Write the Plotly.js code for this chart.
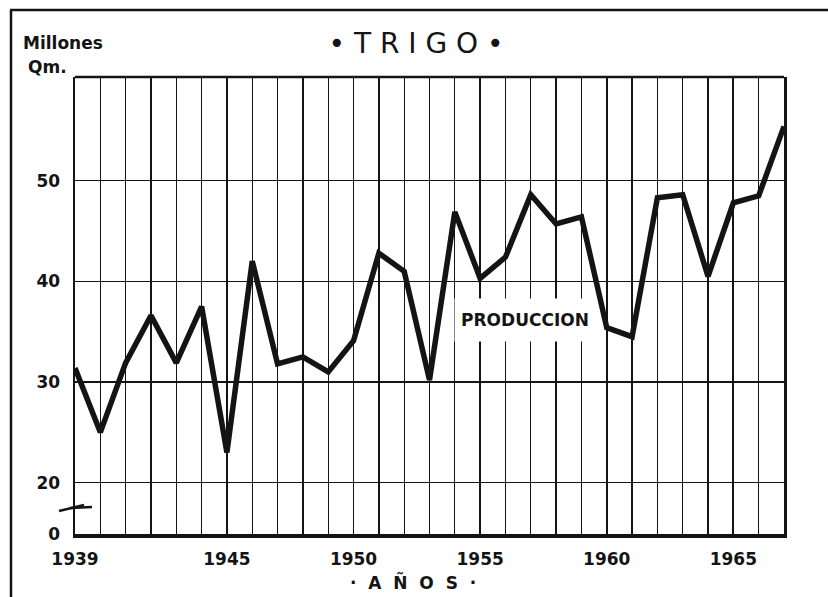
<!DOCTYPE html>
<html><head><meta charset="utf-8">
<script src="https://cdn.plot.ly/plotly-3.0.1.min.js"></script>
<style>html,body{margin:0;padding:0;background:#fff;}#chart{width:828px;height:597px;}</style>
</head><body><div id="chart"></div>
<script>
const years = [1939,1940,1941,1942,1943,1944,1945,1946,1947,1948,1949,1950,1951,1952,1953,1954,1955,1956,1957,1958,1959,1960,1961,1962,1963,1964,1965,1966,1967];
const production = [31.4,25.0,31.9,36.6,31.9,37.5,23.0,42.0,31.8,32.5,31.0,34.1,42.8,41.0,30.2,46.9,40.3,42.4,48.6,45.7,46.4,35.4,34.5,48.3,48.6,40.5,47.8,48.5,55.4];
const xTickVals = [1939,1945,1950,1955,1960,1965];
const xTickText = ['1939','1945','1950','1955','1960','1965'];
const yTickVals = [14.9,20,30,40,50];
const yTickText = ['0','20','30','40','50'];
const seriesLabel = 'PRODUCCION';

const ink = '#141414';
const boldFont = {family:'DejaVu Sans', size:17, color:ink, weight:700};

const trace = {
  x: years, y: production, type:'scatter', mode:'lines',
  line:{color:ink, width:5.5, shape:'linear'},
  hoverinfo:'skip', showlegend:false
};

const L = 75, R = 784, T = 77, B = 534;
const px = v => (v - L) / (R - L);
const py = v => (B - v) / (B - T);

const layout = {
  width:828, height:597,
  margin:{l:L, r:828-R, t:T, b:597-B, pad:0},
  paper_bgcolor:'#fff', plot_bgcolor:'#fff',
  title:{text:'• T R I G O •', x:px(416), xref:'paper', xanchor:'center',
         y:1-43/597, yref:'container', yanchor:'middle',
         font:{family:'DejaVu Sans', size:28, color:ink}},
  xaxis:{range:[1939,1967], tickmode:'array', tickvals:xTickVals, ticktext:xTickText,
         showgrid:true, gridcolor:ink, gridwidth:1.8,
         minor:{tickmode:'linear', tick0:1939, dtick:1, showgrid:true, gridcolor:ink, gridwidth:1.3, ticks:''},
         showline:true, linecolor:ink, linewidth:3.5, zeroline:false, ticks:'',
         ticklabelstandoff:7, tickfont:boldFont, fixedrange:true},
  yaxis:{range:[14.9,60.3], tickmode:'array', tickvals:yTickVals, ticktext:yTickText,
         showgrid:true, gridcolor:ink, gridwidth:1.5,
         showline:true, mirror:true, linecolor:ink, linewidth:2.5, zeroline:false, ticks:'',
         ticklabelstandoff:9, tickfont:boldFont, fixedrange:true},
  shapes:[
    {type:'line', xref:'paper', yref:'paper', x0:0, x1:1, y0:1, y1:1, line:{color:ink, width:2.5}},
    {type:'line', xref:'paper', yref:'paper', x0:px(10), x1:px(828), y0:py(10), y1:py(10), line:{color:ink, width:2.5}},
    {type:'line', xref:'paper', yref:'paper', x0:px(11), x1:px(11), y0:py(10), y1:py(597), line:{color:ink, width:2.5}},
    {type:'line', xref:'paper', yref:'paper', x0:px(59), x1:px(84), y0:py(511), y1:py(505), line:{color:ink, width:2.5}},
    {type:'line', xref:'paper', yref:'paper', x0:px(70), x1:px(92), y0:py(508), y1:py(507), line:{color:ink, width:2.5}}
  ],
  annotations:[
    {text:'Millones', xref:'paper', yref:'paper', x:px(21), y:py(43), xanchor:'left', yanchor:'middle', showarrow:false,
     font:{family:'DejaVu Sans', size:17, color:ink, weight:700}},
    {text:'Qm.', xref:'paper', yref:'paper', x:px(26), y:py(67), xanchor:'left', yanchor:'middle', showarrow:false,
     font:{family:'DejaVu Sans', size:17, color:ink, weight:700}},
    {text:'·  A  Ñ  O  S  ·', xref:'paper', yref:'paper', x:px(413), y:py(582), xanchor:'center', yanchor:'middle', showarrow:false,
     font:boldFont},
    {text:seriesLabel, xref:'x', yref:'y', x:1956.77, y:36.2, xanchor:'center', yanchor:'middle', showarrow:false,
     bgcolor:'#fff', width:140, height:42, borderpad:0, font:boldFont}
  ]
};

Plotly.newPlot('chart', [trace], layout, {staticPlot:true, displayModeBar:false});
</script>
</body></html>
